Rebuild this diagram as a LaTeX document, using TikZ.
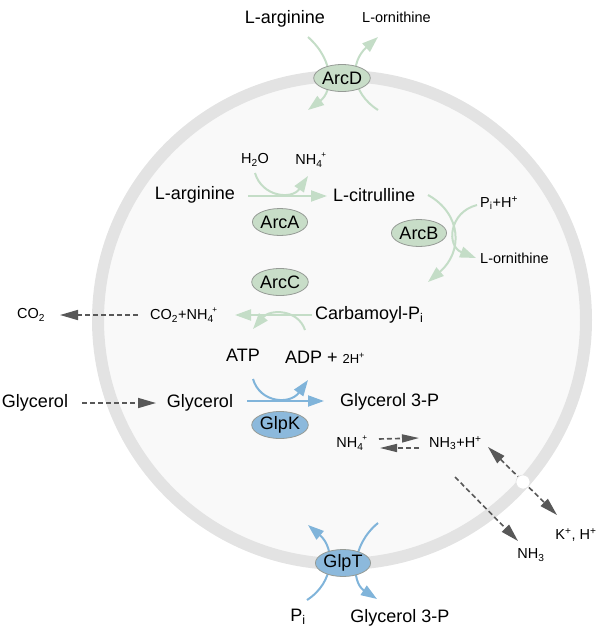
\documentclass[tikz,border=0pt]{standalone}
\usepackage{fontspec}
\setmainfont{Liberation Sans}
\usetikzlibrary{arrows.meta,shapes.geometric}
\definecolor{ringc}{RGB}{227,227,227}
\definecolor{cellc}{RGB}{249,249,249}
\definecolor{grl}{RGB}{196,221,199}
\definecolor{grf}{RGB}{200,221,200}
\definecolor{bll}{RGB}{128,180,218}
\definecolor{blf}{RGB}{140,185,220}
\definecolor{dk}{RGB}{88,88,88}
\definecolor{edgec}{RGB}{150,155,150}
\newcommand\bigf{\fontsize{18}{21}\selectfont}
\newcommand\smf{\fontsize{14.5}{17}\selectfont}
\newcommand\sbsp[2]{\textsubscript{#1}\kern-0.08em\raisebox{0.15em}{\textsuperscript{\scalebox{0.8}{#2}}}}
\tikzset{
  lab/.style={inner sep=0pt, font=\bigf},
  slab/.style={inner sep=0pt, font=\smf},
  enzg/.style={ellipse, draw=edgec, line width=0.8pt, fill=grf, minimum width=53pt, minimum height=27pt, inner sep=0pt, font=\bigf},
  enzb/.style={ellipse, draw=edgec, line width=0.8pt, fill=blf, minimum width=53pt, minimum height=27pt, inner sep=0pt, font=\bigf},
  garr/.style={draw=grl, line width=2pt, -{Triangle[length=16pt,width=11pt]}},
  barr/.style={draw=bll, line width=2pt, -{Triangle[length=16pt,width=11pt]}},
  darr/.style={draw=dk, line width=1.6pt, dash pattern=on 5pt off 3pt, -{Triangle[length=18pt,width=10pt]}},
  ddarr/.style={draw=dk, line width=1.6pt, dash pattern=on 5pt off 3pt, {Triangle[length=18pt,width=10pt]}-{Triangle[length=18pt,width=10pt]}},
}
\begin{document}
\begin{tikzpicture}[x=1pt,y=-1pt]
\useasboundingbox (0,0) rectangle (598,641);
% cell
\fill[cellc] (342,320) circle (240);
\draw[ringc, line width=12pt] (342,320) circle (244);

% ---- ArcD (top) ----
\node[lab] (tlarg) at (285,19) {L-arginine};
\node[slab, anchor=west] (tlorn) at (362,17) {L-ornithine};
\coordinate (d1s) at (308,37); \coordinate (d1e) at (308,110);
\coordinate (d2s) at (378,110); \coordinate (d2e) at (378,37);
\draw[garr] (d1s) .. controls (336,62) and (332,92) .. (d1e);
\draw[garr] (d2s) .. controls (350,92) and (350,62) .. (d2e);
\node[enzg] (arcd) at (342,78) {ArcD};

% ---- ArcA ----
\node[slab] (h2o) at (255,160) {H\textsubscript{2}O};
\node[slab] (nh4a) at (311,160) {NH\sbsp{4}{+}};
\node[lab] (larg) at (195,195) {L-arginine};
\node[lab, anchor=west] (lcit) at (333,195) {L-citrulline};
\coordinate (a1) at (248,196); \coordinate (a2) at (327,196);
\draw[garr] (a1) -- (a2);
\coordinate (a3) at (255,173); \coordinate (a4) at (308,176);
\draw[garr] (a3) .. controls (262,197) and (292,200) .. (a4);
\node[enzg] (arca) at (280,222) {ArcA};

% ---- ArcB ----
\node[slab, anchor=west] (pih) at (480,203) {P\textsubscript{i}+H\textsuperscript{+}};
\node[slab, anchor=west] (lornb) at (480,258) {L-ornithine};
\coordinate (b1) at (428,195); \coordinate (b2) at (428,282);
\draw[garr] (b1) .. controls (462,214) and (463,252) .. (b2);
\coordinate (b3) at (477,205); \coordinate (b4) at (476,258);
\draw[garr] (b3) .. controls (449,212) and (446,246) .. (b4);
\node[enzg] (arcb) at (419,233) {ArcB};

% ---- ArcC ----
\node[slab] (co2) at (31,315) {CO\textsubscript{2}};
\node[slab, anchor=west] (co2nh4) at (150,315) {CO\textsubscript{2}+NH\sbsp{4}{+}};
\node[lab, anchor=west] (carb) at (315,315) {Carbamoyl-P\textsubscript{i}};
\coordinate (c0a) at (138,315); \coordinate (c0b) at (60,315);
\draw[darr] (c0a) -- (c0b);
\coordinate (c1) at (312,315); \coordinate (c2) at (235,315);
\draw[garr] (c1) -- (c2);
\coordinate (c3) at (305,330); \coordinate (c4) at (253,329);
\draw[garr] (c3) .. controls (298,309) and (270,309) .. (c4);
\node[enzg] (arcc) at (280,282) {ArcC};
\node[lab] (atp) at (243,355) {ATP};
\node[lab] (adp) at (325,357) {ADP + {\fontsize{13}{15}\selectfont 2H\textsuperscript{+}}};

% ---- GlpK ----
\node[lab] (glyo) at (35,403) {Glycerol};
\node[lab] (glyi) at (200,403) {Glycerol};
\node[lab, anchor=west] (g3p) at (340,402) {Glycerol 3-P};
\coordinate (k0a) at (82,403); \coordinate (k0b) at (156,403);
\draw[darr] (k0a) -- (k0b);
\coordinate (k1) at (247,401); \coordinate (k2) at (324,401);
\draw[barr] (k1) -- (k2);
\coordinate (k3) at (253,379); \coordinate (k4) at (308,380);
\draw[barr] (k3) .. controls (260,403) and (290,405) .. (k4);
\node[enzb] (glpk) at (280,425) {GlpK};

% ---- ammonia ----
\node[slab] (nh4b) at (352,443) {NH\sbsp{4}{+}};
\node[slab, anchor=west] (nh3h) at (429,443) {NH\textsubscript{3}+H\textsuperscript{+}};
\coordinate (n1) at (379,439); \coordinate (n2) at (419,438);
\draw[darr, -{Triangle[length=17pt,width=8pt]}] (n1) -- (n2);
\coordinate (n3) at (419,448); \coordinate (n4) at (380,448);
\draw[darr, -{Triangle[length=17pt,width=8pt]}] (n3) -- (n4);
\coordinate (n5) at (488,447); \coordinate (n6) at (557,515);
\draw[ddarr] (n5) -- (n6);
\coordinate (n7) at (455,477); \coordinate (n8) at (518,541);
\draw[darr] (n7) -- (n8);
\node[circle, fill=white, draw=ringc, line width=0.6pt, minimum size=14pt, inner sep=0pt] (pore) at (523,482) {};
\node[slab] (nh3o) at (531,555) {NH\textsubscript{3}};
\node[slab] (kh) at (576,535) {K\textsuperscript{+}, H\textsuperscript{+}};

% ---- GlpT (bottom) ----
\coordinate (t1s) at (307,600); \coordinate (t1e) at (308,525);
\coordinate (t2s) at (378,523); \coordinate (t2e) at (377,599);
\draw[barr] (t1s) .. controls (335,582) and (335,548) .. (t1e);
\draw[barr] (t2s) .. controls (351,545) and (351,582) .. (t2e);
\node[enzb] (glpt) at (343,563) {GlpT};
\node[lab] (pi) at (298,617) {P\textsubscript{i}};
\node[lab] (g3po) at (400,618) {Glycerol 3-P};
\end{tikzpicture}
\end{document}
